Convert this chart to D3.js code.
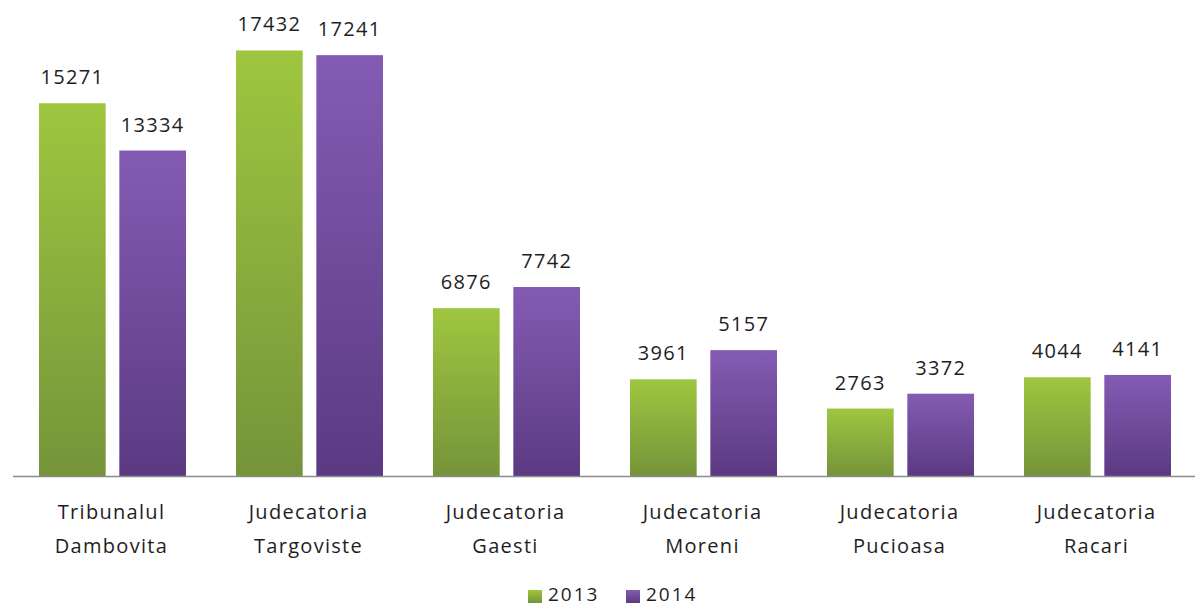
<!DOCTYPE html>
<html>
<head>
<meta charset="utf-8">
<script src="https://cdn.jsdelivr.net/npm/d3@7"></script>
<style>
  body { margin: 0; background: #fff; }
  svg text { font-family: "Open Sans", "Noto Sans", sans-serif; fill: #1e1e1e; letter-spacing: 1.3px; }
</style>
</head>
<body>
<div id="chart"></div>
<script>
const categories = [
  ["Tribunalul", "Dambovita"],
  ["Judecatoria", "Targoviste"],
  ["Judecatoria", "Gaesti"],
  ["Judecatoria", "Moreni"],
  ["Judecatoria", "Pucioasa"],
  ["Judecatoria", "Racari"]
];
const years = ["2013", "2014"];
const values2013 = [15271, 17432, 6876, 3961, 2763, 4044];
const values2014 = [13334, 17241, 7742, 5157, 3372, 4141];

const width = 1195, height = 609;
const margin = { left: 13, right: 0, top: 0 };
const baseY = 476;

const svg = d3.select("#chart").append("svg")
  .attr("width", width).attr("height", height);

const defs = svg.append("defs");
const gradients = [
  { id: "g2013", top: "#9fc63f", bottom: "#75943a" },
  { id: "g2014", top: "#845bb3", bottom: "#5b3a82" }
];
gradients.forEach((g) => {
  const lg = defs.append("linearGradient").attr("id", g.id)
    .attr("x1", 0).attr("y1", 0).attr("x2", 0).attr("y2", 1);
  lg.append("stop").attr("offset", "0%").attr("stop-color", g.top);
  lg.append("stop").attr("offset", "100%").attr("stop-color", g.bottom);
});

const x0 = d3.scaleBand()
  .domain(d3.range(categories.length))
  .range([margin.left, width - margin.right]);

const x1 = d3.scaleBand()
  .domain(years)
  .range([26, x0.bandwidth() - 24])
  .paddingInner(0.17);

const y = d3.scaleLinear().domain([0, 19500]).range([baseY, 0]);

const rows = categories.map((c, i) => ({
  i,
  vals: [
    { year: "2013", v: values2013[i] },
    { year: "2014", v: values2014[i] }
  ]
}));

const groups = svg.selectAll("g.grp").data(rows).enter().append("g")
  .attr("class", "grp")
  .attr("transform", (d) => `translate(${x0(d.i)},0)`);

groups.selectAll("rect").data((d) => d.vals).enter().append("rect")
  .attr("x", (d) => x1(d.year))
  .attr("y", (d) => y(d.v))
  .attr("width", x1.bandwidth())
  .attr("height", (d) => baseY - y(d.v))
  .attr("fill", (d) => `url(#g${d.year})`);

groups.selectAll("text.val").data((d) => d.vals).enter().append("text")
  .attr("class", "val")
  .attr("x", (d) => x1(d.year) + x1.bandwidth() / 2)
  .attr("y", (d) => y(d.v) - 19)
  .attr("text-anchor", "middle")
  .style("font-size", "20px")
  .text((d) => d.v);

// axis line
svg.append("line")
  .attr("x1", margin.left).attr("x2", width)
  .attr("y1", baseY + 0.5).attr("y2", baseY + 0.5)
  .attr("stroke", "#8c8c8c").attr("stroke-width", 1.5);

// category labels
groups.append("text")
  .attr("x", x0.bandwidth() / 2)
  .attr("y", 519)
  .attr("text-anchor", "middle")
  .style("font-size", "20px")
  .text((d) => categories[d.i][0]);
groups.append("text")
  .attr("x", x0.bandwidth() / 2)
  .attr("y", 553)
  .attr("text-anchor", "middle")
  .style("font-size", "20px")
  .text((d) => categories[d.i][1]);

// legend
const legend = svg.append("g");
const legendX = [528, 626];
years.forEach((yr, k) => {
  legend.append("rect")
    .attr("x", legendX[k]).attr("y", 590)
    .attr("width", 14).attr("height", 13)
    .attr("fill", `url(#g${yr})`);
  legend.append("text")
    .attr("x", legendX[k] + 20).attr("y", 601)
    .style("font-size", "19px")
    .style("letter-spacing", "2px")
    .text(yr);
});
</script>
</body>
</html>
